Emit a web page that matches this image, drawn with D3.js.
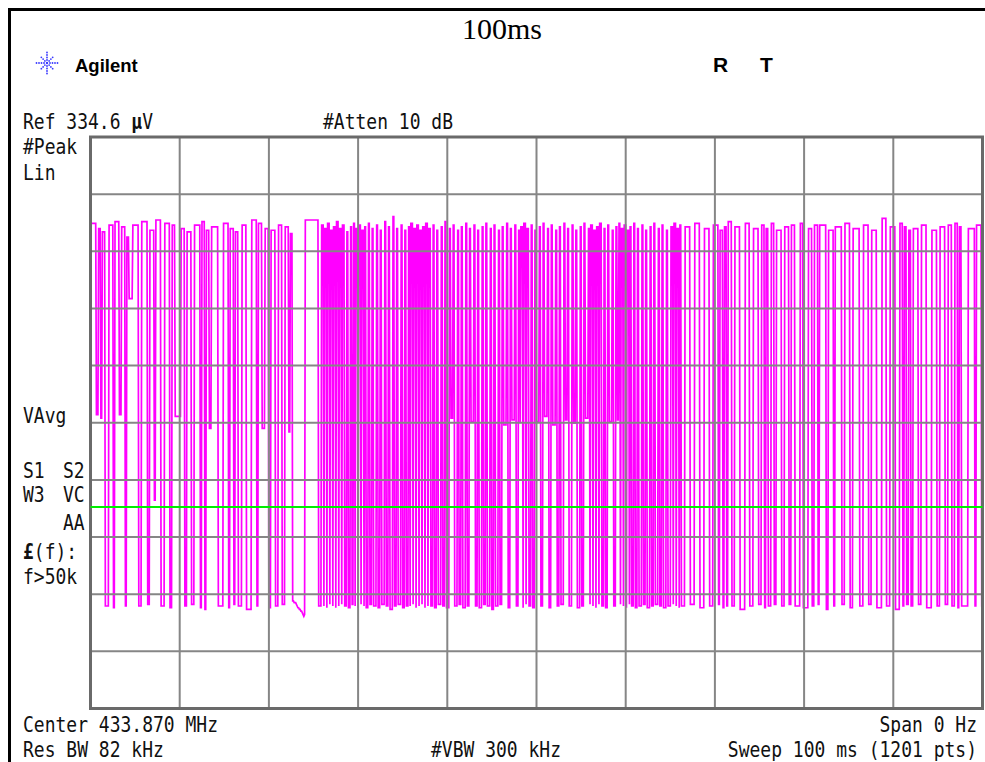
<!DOCTYPE html>
<html>
<head>
<meta charset="utf-8">
<script src="https://cdn.jsdelivr.net/npm/d3@7"></script>
<style>
  html, body { margin: 0; padding: 0; background: #fff; }
  svg { display: block; }
  .mono { font-family: "DejaVu Sans Mono", monospace; font-size: 18px; fill: #111; }
</style>
</head>
<body>
<script>
// sweep settings
var refUv = 334.6;
var sweepMs = 100;
var nPts = 1201;
var displayLineUv = 118;

// each pulse: [rise sample, fall sample, top uV, floor uV after it]
var pulses = [
  // 0 - 23 ms
  [0, 8, 284, 172], [11, 14, 281, 170], [16, 20, 279, 60], [25, 31, 283, 59],
  [33, 39, 285, 172], [42, 47, 282, 60], [49, 52, 276, 240], [57, 65, 283, 60],
  [69, 77, 285, 61], [80, 86, 280, 122], [88, 95, 286, 60], [100, 107, 284, 59],
  [110, 114, 283, 171], [122, 127, 281, 60], [130, 136, 279, 61], [140, 148, 283, 59],
  [150, 154, 285, 58], [156, 160, 280, 164], [163, 172, 282, 60], [179, 186, 284, 59],
  [188, 193, 281, 61], [195, 199, 279, 60], [204, 210, 283, 58], [217, 224, 286, 60],
  [226, 231, 284, 164], [235, 240, 281, 59], [243, 249, 280, 60], [253, 258, 283, 61],
  [262, 267, 282, 162], [269, 272, 278, 63],
  // long pulse after the gap
  [289, 307, 286, 60],
  // 26 - 69 ms
  [311, 314, 283, 60], [315, 318, 281, 59], [319, 322, 284, 61], [323, 326, 280, 60],
  [327, 330, 282, 59], [331, 334, 285, 60], [335, 338, 281, 61], [339, 342, 283, 60],
  [345, 347, 279, 59], [350, 352, 282, 61], [354, 356, 284, 60], [357, 360, 281, 59],
  [361, 364, 283, 61], [365, 368, 280, 60], [369, 371, 282, 59], [374, 376, 284, 61],
  [379, 381, 281, 60], [385, 387, 283, 59], [390, 392, 280, 61], [396, 398, 285, 60],
  [401, 403, 282, 58], [407, 409, 288, 60], [412, 414, 281, 61], [418, 420, 283, 59],
  [423, 425, 280, 60], [428, 430, 282, 60], [431, 434, 284, 61], [435, 438, 281, 59],
  [439, 442, 283, 60], [443, 446, 280, 61], [447, 450, 282, 59], [451, 454, 284, 60],
  [455, 458, 281, 60], [461, 463, 283, 59], [466, 468, 280, 61], [472, 474, 282, 60],
  [477, 479, 285, 59], [483, 485, 281, 170], [488, 490, 283, 60], [494, 496, 280, 61],
  [499, 501, 282, 59], [505, 507, 284, 60], [510, 512, 281, 168], [516, 518, 283, 60],
  [521, 523, 280, 59], [527, 529, 282, 61], [532, 534, 284, 60], [538, 540, 281, 58],
  [543, 545, 283, 60], [549, 551, 280, 61], [554, 556, 282, 166], [560, 562, 284, 59],
  [565, 567, 281, 169], [571, 573, 283, 60], [576, 578, 280, 167], [579, 582, 282, 59],
  [583, 586, 284, 61], [587, 590, 281, 60], [593, 595, 283, 59], [598, 600, 280, 168],
  [604, 606, 282, 60], [609, 611, 284, 171], [615, 617, 281, 59], [620, 622, 283, 166],
  [626, 628, 280, 60], [631, 633, 282, 61], [637, 639, 284, 169], [642, 644, 281, 60],
  [648, 650, 283, 167], [653, 655, 280, 59], [659, 661, 282, 60], [664, 666, 284, 170],
  [670, 672, 281, 61], [673, 676, 283, 60], [677, 680, 280, 59], [681, 684, 282, 61],
  [685, 688, 284, 60], [691, 693, 281, 59], [696, 698, 283, 168], [702, 704, 280, 60],
  [707, 709, 282, 169], [711, 713, 284, 61], [714, 717, 281, 60], [718, 721, 283, 59],
  [722, 725, 280, 61], [726, 728, 282, 60], [731, 733, 284, 59], [736, 738, 281, 60],
  [742, 744, 283, 61], [747, 749, 280, 59], [753, 755, 282, 60], [758, 760, 284, 61],
  [764, 766, 281, 60], [769, 771, 283, 59], [775, 777, 280, 60], [781, 784, 282, 61],
  [785, 788, 284, 60], [789, 792, 281, 59], [793, 795, 283, 60], [800, 807, 282, 61],
  [813, 820, 284, 59], [826, 833, 281, 60],
  // 69 - 100 ms
  [838, 845, 283, 61], [847, 851, 280, 59], [853, 856, 282, 60], [858, 863, 285, 60],
  [867, 874, 282, 58], [881, 887, 284, 60], [892, 899, 281, 61], [903, 907, 283, 59],
  [909, 912, 281, 60], [916, 920, 284, 61], [923, 930, 280, 60], [934, 940, 282, 61],
  [943, 948, 283, 60], [955, 959, 284, 59], [966, 971, 281, 60], [974, 979, 283, 61],
  [981, 990, 283, 58], [993, 1000, 280, 60], [1002, 1011, 282, 61], [1015, 1022, 284, 59],
  [1026, 1035, 281, 60], [1040, 1047, 283, 61], [1051, 1058, 280, 59], [1065, 1071, 287, 60],
  [1076, 1083, 282, 58], [1089, 1093, 284, 60], [1095, 1098, 282, 61], [1101, 1104, 280, 60],
  [1107, 1114, 281, 61], [1118, 1125, 283, 59], [1132, 1139, 280, 60], [1143, 1150, 282, 61],
  [1154, 1159, 283, 60], [1163, 1167, 284, 59], [1169, 1172, 282, 60], [1181, 1190, 281, 60],
  [1192, 1199, 283, 60]
];

// floor sagging before the long pulse near 24 ms
var sagStart = 272;
var sagUv = [63, 63, 62, 62, 62, 61, 60, 59, 59, 58, 58, 57, 57, 56, 55, 54, 55];

var W = 985, H = 762;
var svg = d3.select('body').append('svg').attr('width', W).attr('height', H);

var x = d3.scaleLinear().domain([0, sweepMs]).range([90.5, 982.5]);
var y = d3.scaleLinear().domain([0, refUv]).range([708.5, 137]);

// build the 1201 point trace from the pulse table
var trace = new Array(nPts);
pulses.forEach(function (p, k) {
    var next = k + 1 < pulses.length ? pulses[k + 1][0] : nPts;
    for (var i = p[0]; i < p[1]; i++) trace[i] = p[2];
    for (var i = p[1]; i < next; i++) trace[i] = p[3];
});
sagUv.forEach(function (v, j) { trace[sagStart + j] = v; });

var line = d3.line()
    .x(function (d, i) { return x(i * sweepMs / (nPts - 1)); })
    .y(function (d) { return y(d); });

// outer black frame
svg.append('path')
    .attr('d', 'M9.5,' + H + ' L9.5,9.5 L' + W + ',9.5')
    .attr('fill', 'none').attr('stroke', '#000').attr('stroke-width', 3);

// trace
svg.append('path')
    .datum(trace)
    .attr('d', line)
    .attr('fill', 'none')
    .attr('stroke', '#ff00ff')
    .attr('stroke-width', 1.7);

// graticule
var xDivs = d3.range(0, 11).map(function (i) { return i * sweepMs / 10; });
var yDivs = d3.range(0, 11).map(function (i) { return i * refUv / 10; });

svg.append('g').selectAll('line').data(xDivs.slice(1, 10)).enter()
    .append('line')
    .attr('x1', function (d) { return x(d); }).attr('x2', function (d) { return x(d); })
    .attr('y1', y(0)).attr('y2', y(refUv))
    .attr('stroke', '#868686').attr('stroke-width', 2);

svg.append('g').selectAll('line').data(yDivs.slice(1, 10)).enter()
    .append('line')
    .attr('y1', function (d) { return y(d); }).attr('y2', function (d) { return y(d); })
    .attr('x1', x(0)).attr('x2', x(sweepMs))
    .attr('stroke', '#868686').attr('stroke-width', 2);

svg.append('rect')
    .attr('x', x(0)).attr('y', y(refUv))
    .attr('width', x(sweepMs) - x(0)).attr('height', y(0) - y(refUv))
    .attr('fill', 'none').attr('stroke', '#6a6a6a').attr('stroke-width', 3);

// display line
svg.append('line')
    .attr('x1', x(0)).attr('x2', x(sweepMs))
    .attr('y1', y(displayLineUv)).attr('y2', y(displayLineUv))
    .attr('stroke', '#00ee00').attr('stroke-width', 2);

// instrument text
function label(txt, px, py, anchor) {
    return svg.append('text')
        .attr('class', 'mono')
        .attr('transform', 'translate(' + px + ',' + py + ') scale(1,1.2)')
        .attr('text-anchor', anchor || 'start')
        .text(txt);
}

var ref = label('Ref 334.6 ', 23, 129);
ref.append('tspan').attr('font-weight', 'bold').text('µ');
ref.append('tspan').text('V');
label('#Atten 10 dB', 323, 129);
label('#Peak', 23, 154);
label('Lin', 23, 180);
label('VAvg', 23, 423);
label('S1', 23, 478);
label('S2', 63, 478);
label('W3', 23, 502);
label('VC', 63, 502);
label('AA', 63, 530);
var lf = label('', 23, 559);
lf.append('tspan').attr('font-weight', 'bold').text('£');
lf.append('tspan').text('(f):');
label('f>50k', 23, 584);
label('Center 433.870 MHz', 23, 732);
label('Span 0 Hz', 977, 732, 'end');
label('Res BW 82 kHz', 23, 757);
label('#VBW 300 kHz', 431, 757);
label('Sweep 100 ms (1201 pts)', 977, 757, 'end');

svg.append('text')
    .attr('x', 502).attr('y', 39)
    .attr('text-anchor', 'middle')
    .style('font-family', '"Liberation Serif", "Times New Roman", serif')
    .style('font-size', '30px')
    .text('100ms');

svg.append('text')
    .attr('x', 75).attr('y', 72)
    .style('font-family', '"Liberation Sans", Arial, sans-serif')
    .style('font-weight', 'bold')
    .style('font-size', '18.5px')
    .text('Agilent');

svg.append('text')
    .attr('x', 713).attr('y', 72)
    .style('font-family', '"Liberation Sans", Arial, sans-serif')
    .style('font-weight', 'bold')
    .style('font-size', '21px')
    .text('R');
svg.append('text')
    .attr('x', 760).attr('y', 72)
    .style('font-family', '"Liberation Sans", Arial, sans-serif')
    .style('font-weight', 'bold')
    .style('font-size', '21px')
    .text('T');

// Agilent spark logo
var logo = svg.append('g').attr('transform', 'translate(47,63)');
var spokes = d3.range(0, 8).map(function (k) { return k * Math.PI / 4; });
spokes.forEach(function (a, k) {
    var radii = k % 2 === 0 ? [3, 5.5, 8, 10.5] : [3, 5.5, 8];
    radii.forEach(function (r) {
        logo.append('circle')
            .attr('cx', r * Math.cos(a)).attr('cy', r * Math.sin(a))
            .attr('r', 0.9).attr('fill', '#3a3aff');
    });
});
logo.append('circle').attr('r', 1.2).attr('fill', '#3a3aff');
</script>
</body>
</html>
